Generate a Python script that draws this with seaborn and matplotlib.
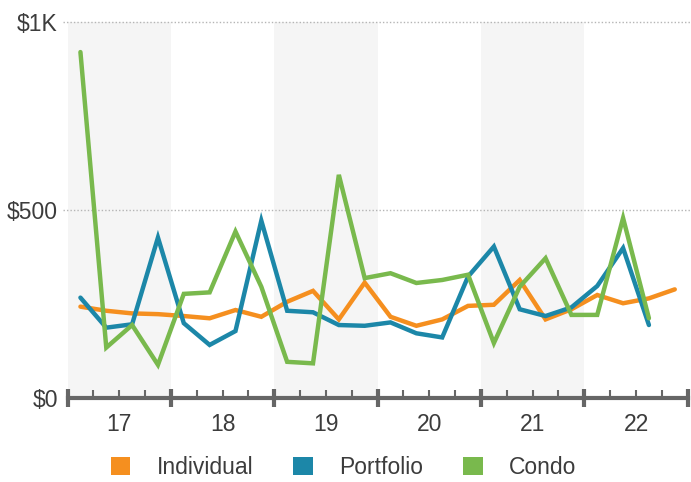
#!/usr/bin/env python3
"""Quarterly median values by loan type, 2017-2022."""

import matplotlib.pyplot as plt
import pandas as pd
import seaborn as sns
from matplotlib.patches import Patch

# quarters 17Q1 .. 22Q4
quarters = pd.period_range("2017Q1", "2022Q4", freq="Q")
year_labels = ["17", "18", "19", "20", "21", "22"]

individual = [242, 231, 224, 222, 217, 211, 233, 215, 255, 284, 208, 306,
              215, 191, 208, 244, 247, 313, 208, 235, 273, 251, 264, 288]
portfolio = [266, 186, 195, 426, 198, 140, 177, 471, 231, 227, 193, 191,
             200, 171, 160, 322, 402, 235, 217, 240, 297, 398, 193]
condo = [920, 133, 193, 87, 276, 280, 442, 295, 95, 91, 593, 318,
         331, 305, 313, 327, 145, 295, 371, 220, 220, 478, 211]

series = {"Individual": individual, "Portfolio": portfolio, "Condo": condo}
colors = {"Individual": "#F58F1F", "Portfolio": "#1C87A8", "Condo": "#79B94D"}

rows = []
for name, vals in series.items():
    for p, v in zip(quarters, vals):
        rows.append({"x": p.year + (p.quarter - 0.5) / 4, "value": v, "type": name})
df = pd.DataFrame(rows)

sns.set_style("white")
plt.rcParams["font.family"] = ["Liberation Sans", "DejaVu Sans"]

fig = plt.figure(figsize=(6.91, 4.82), dpi=100)
ax = fig.add_axes([0.0977, 0.1753, 0.8975, 0.779])

# alternating year bands
for y0 in (2017, 2019, 2021):
    ax.axvspan(y0, y0 + 1, color="#f5f5f5", lw=0, zorder=0)

# dotted gridlines
for yv in (500, 1000):
    ax.axhline(yv, xmin=-0.008, xmax=1.01, color="#b5b5b5", ls=(0, (1, 1.5)),
               lw=1, clip_on=False, zorder=1)

sns.lineplot(data=df, x="x", y="value", hue="type", palette=colors,
             hue_order=list(series.keys()), sort=False, lw=3.2,
             legend=False, ax=ax, zorder=3)
for line in ax.get_lines():
    line.set_solid_joinstyle("miter")
    line.set_solid_capstyle("round")

ax.set_xlim(2017, 2023)
ax.set_ylim(0, 1000)
ax.set_xlabel("")
ax.set_ylabel("")

for side in ("left", "top", "right"):
    ax.spines[side].set_visible(False)
ax.spines["bottom"].set_color("#666666")
ax.spines["bottom"].set_linewidth(3)
ax.spines["bottom"].set_zorder(4)

# year boundaries as major ticks, quarters as minor ticks with year labels
ax.set_xticks(range(2017, 2024))
ax.set_xticklabels([""] * 7)
minor_pos = [y + q / 4 for y in range(2017, 2023) for q in (1, 2, 3)]
minor_lab = []
for lab in year_labels:
    minor_lab += ["", lab, ""]
ax.set_xticks(minor_pos, minor=True)
ax.set_xticklabels(minor_lab, minor=True)
ax.tick_params(axis="x", which="major", direction="inout", length=13, width=3,
               color="#666666", bottom=True)
ax.tick_params(axis="x", which="minor", direction="in", length=6, width=1.5,
               color="#666666", bottom=True, pad=11, labelsize=16.5,
               labelcolor="#3c3c3c")

ax.set_yticks([0, 500, 1000])
ax.set_yticklabels(["$0", "$500", "$1K"])
ax.tick_params(axis="y", length=0, pad=7, labelsize=16.5, labelcolor="#3c3c3c")

handles = [Patch(facecolor=colors[n], edgecolor="none", label=n) for n in series]
fig.legend(handles=handles, loc="lower center", bbox_to_anchor=(0.497, -0.012),
           ncol=3, frameon=False, fontsize=16.5, handlelength=0.85,
           handleheight=0.85, handletextpad=1.15, columnspacing=1.75,
           labelcolor="#3c3c3c", borderaxespad=0.0)

fig.savefig("out.png", dpi=100)
plt.close(fig)
